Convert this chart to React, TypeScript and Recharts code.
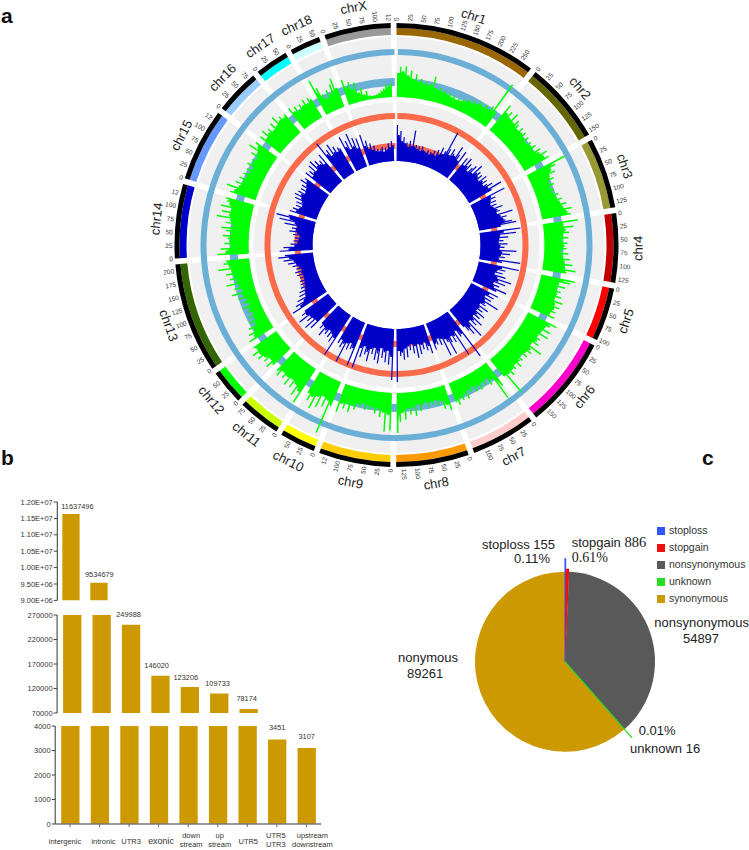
import React from "react";
import {
  Bar, BarChart, Cell, LabelList, Legend, Pie, PieChart, PolarAngleAxis, PolarRadiusAxis,
  Radar, RadarChart, Sector, XAxis, YAxis,
} from "recharts";

const FONT = "'Liberation Sans', Arial, sans-serif";

// ---------- panel a ----------
const chrNames = ["chr1","chr2","chr3","chr4","chr5","chr6","chr7","chr8","chr9","chr10","chr11","chr12","chr13","chr14","chr15","chr16","chr17","chr18","chrX"];
const chrSizes = [274,157,136,133,103,177,125,140,138,69,82,67,212,143,140,86,64,59,128];
const chrTickLabels = [
  ["0","25","50","75","100","125","150","175","200","225","250"],
  ["0","25","50","75","100","125","150"],
  ["0","25","50","75","100","125"],
  ["0","25","50","75","100","125"],
  ["0","25","50","75","100"],
  ["0","25","50","75","100","125","150"],
  ["0","25","50","75","100"],
  ["0","25","50","75","100","125"],
  ["0","25","50","75","100","12"],
  ["0","25","50"],
  ["0","25","50","75"],
  ["0","25","50"],
  ["0","25","50","75","100","125","150","175","200"],
  ["0","25","50","75","100","12"],
  ["0","25","50","75","100","12"],
  ["0","25","50","75"],
  ["0","25","50"],
  ["0","25","50"],
  ["0","25","50","75","100","12"],
];
const chrColors = ["#996600","#666600","#999933","#c00000","#ff0000","#ff00cc","#ffcccc","#ff9900","#ffcc00","#ffff00","#ccff00","#00ff00","#336600","#0000cc","#6699ff","#99ccff","#00ffff","#ccffff","#999999"];

const greenChr1 = [24,30,26,31,22,27,19,24,17,20,16,18,15,17,25,14,13,15,12,14,11,13,10,12,9,11,10,13,12,15,13,16,14,18,17,15,19,16,21,50,18];
const greenChr2 = [32,24,28,22,30,21,26,23,19,24,20,23,18,22,17,21,19,23,18,25,22,29,24,28];
const greenChr3 = [42,30,24,27,20,23,17,21,16,19,17,22,19,24,21,27,23,31,26,29];
const greenChr4 = [35,20,30,22,25,19,24,18,23,20,22,17,24,19,26,21,29,22,33,24];
const greenChr5 = [34,30,19,26,18,23,20,25,19,28,21,27,22,25,20,26];
const greenChr6 = [32,26,22,29,21,30,20,24,22,26,19,33,22,25,20,24,18,23,21,26,20,24,22,27,23,44,22];
const greenChr7 = [28,41,17,21,13,18,14,20,15,19,13,17,14,22,16,21,18,24,20];
const greenChr8 = [26,20,23,14,18,12,15,13,17,12,14,20,13,24,15,22,16,27,20,29,40];
const greenChr9 = [38,22,39,20,25,17,22,16,19,15,20,14,18,16,22,19,26,18,24,20,29];
const greenChr10 = [26,56,22,30,20,33,23,37,26,31,24];
const greenChr11 = [40,28,35,24,30,22,31,23,27,22,29,25];
const greenChr12 = [24,30,22,28,25,31,27,33,26,28];
const greenChr13 = [28,21,25,18,22,14,19,12,17,11,15,13,18,11,16,12,19,14,24,13,20,15,27,16,22,18,25,19,32,21,26,23];
const greenChr14 = [31,23,28,18,24,19,21,26,18,23,28,17,24,20,34,22,30,21,32,24,27,29];
const greenChr15 = [27,23,32,20,25,18,23,17,21,16,20,15,22,18,20,16,24,19,30,22,26];
const greenChr16 = [26,20,28,22,25,20,27,21,30,23,26,22,24];
const greenChr17 = [26,20,24,18,23,20,25,19,24,21];
const greenChr18 = [38,28,20,14,22,17,26,31,20];
const greenChrX = [26,18,22,14,20,9,13,6,9,4,3,3,4,5,7,9,13,11,14];
const greenTrack = [greenChr1,greenChr2,greenChr3,greenChr4,greenChr5,greenChr6,greenChr7,greenChr8,greenChr9,greenChr10,greenChr11,greenChr12,greenChr13,greenChr14,greenChr15,greenChr16,greenChr17,greenChr18,greenChrX];

const blueChr1 = [36,26,30,20,24,18,19,15,21,16,32,16,18,14,17,13,18,15,14,13,16,12,15,14,18,13,20,16,24,18,22,44,26,20,28,24,22,34,26,20,32];
const blueChr2 = [28,20,30,22,26,18,24,28,20,32,24,27,22,26,20,29,23,27,21,25,30,24,38,26];
const blueChr3 = [38,22,26,20,25,18,24,20,29,23,25,21,37,24,30,26,28,34,38,22];
const blueChr4 = [41,24,36,20,28,19,23,18,27,20,24,19,36,22,30,21,25,19,41,23];
const blueChr5 = [41,24,28,20,26,18,30,22,37,24,32,20,27,22,36,26];
const blueChr6 = [30,21,27,18,26,20,36,22,24,18,29,20,25,19,30,22,27,20,33,24,29,21,40,26,34,28,22];
const blueChr7 = [55,26,28,20,47,24,30,22,28,40,26,22,39,20,26,18,24,22,28];
const blueChr8 = [30,22,26,17,24,19,28,17,31,19,26,16,22,18,29,20,31,24,27,22,53];
const blueChr9 = [51,28,36,22,34,24,30,20,36,26,33,21,28,23,36,27,30,22,34,25,46];
const blueChr10 = [46,28,30,24,32,26,47,28,33,25,30];
const blueChr11 = [47,28,34,26,31,24,30,27,35,25,29,24];
const blueChr12 = [35,26,39,27,33,28,40,30,34,29];
const blueChr13 = [40,30,34,24,30,20,26,19,24,17,21,16,20,15,19,14,18,14,20,15,21,14,19,16,22,18,26,20,30,24,35,28];
const blueChr14 = [33,24,29,18,22,15,19,14,18,13,20,16,24,18,22,17,30,20,36,26,40,28];
const blueChr15 = [28,22,26,20,24,18,25,20,28,22,30,24,28,21,27,22,28,24,32,26,29];
const blueChr16 = [32,24,30,26,34,25,36,28,33,27,30,24,35];
const blueChr17 = [45,30,34,26,38,28,33,26,30,28];
const blueChr18 = [38,26,32,22,38,24,32,20,30];
const blueChrX = [32,20,25,16,21,14,18,12,14,11,13,15,10,14,12,18,14,20,16];
const blueTrack = [blueChr1,blueChr2,blueChr3,blueChr4,blueChr5,blueChr6,blueChr7,blueChr8,blueChr9,blueChr10,blueChr11,blueChr12,blueChr13,blueChr14,blueChr15,blueChr16,blueChr17,blueChr18,blueChrX];

// ---------- panel b ----------
const regionValues = [11637496,9534679,249988,146020,123206,109733,78174,3451,3107];
const regionLabels = [["intergenic"],["intronic"],["UTR3"],["exonic"],["down","stream"],["up","stream"],["UTR5"],["UTR5","UTR3"],["upstream","downstream"]];
const topTicks = [9000000,9500000,10000000,10500000,11000000,11500000,12000000];
const midTicks = [70000,120000,170000,220000,270000];
const lowTicks = [0,1000,2000,3000,4000];

// ---------- panel c ----------
const effectNames = ["stoploss","stopgain","nonsynonymous","unknown","synonymous"];
const effectValues = [155,886,54897,16,89261];
const effectColors = ["#3355ff","#ee1111","#595959","#22dd22","#cc9900"];

// ---------- layout ----------
const CX = 396.5, CY = 245;
const GAP = 1.52;
const totalSize = chrSizes.reduce((a, b) => a + b, 0);
const degPerMb = (360 - GAP * chrSizes.length) / totalSize;
const chrSpan = chrSizes.map((s) => s * degPerMb);
const chrStart = chrSpan.map((_, i) => chrSpan.slice(0, i).reduce((a, b) => a + b + GAP, 0));
const chrRows = chrNames.map((name, i) => ({ name, value: chrSizes[i] }));

const signalRows = (track: number[][]) =>
  track.flatMap((vals, c) => vals.map((value, i) => ({ angle: chrStart[c] + ((i + 0.5) / vals.length) * chrSpan[c], value })));

const tickRows = chrTickLabels.flatMap((labels, c) =>
  labels.map((label, i) => ({ angle: chrStart[c] + i * 25 * degPerMb, value: 224, label, kind: "tick" })));
const nameRows = chrNames.map((label, c) => ({ angle: chrStart[c] + chrSpan[c] / 2, value: 241.5, label, kind: "name" }));

// Per chromosome: a solid body below the local minimum of the scaled points, plus one radial line per point.
const spikes = (color: string, width: number, baseR: number) => (props: any) => {
  const runs: any[][] = [];
  props.points.forEach((p: any, i: number) => {
    if (i === 0 || Math.abs(props.points[i - 1].angle - p.angle) > 1.6) runs.push([]);
    runs[runs.length - 1].push(p);
  });
  const at = (p: any, r: number) => {
    const rad = (p.angle * Math.PI) / 180;
    return { x: p.cx + r * Math.cos(rad), y: p.cy - r * Math.sin(rad) };
  };
  const pt = (c: { x: number; y: number }) => `${c.x},${c.y}`;
  return (
    <g>
      {runs.map((run, k) => {
        const floor = run.map((p, i) => {
          const near = run.slice(Math.max(0, i - 1), i + 2).map((q) => q.radius);
          return pt(at(p, Math.min(...near)));
        });
        const baseline = run.map((p) => pt(at(p, baseR))).reverse();
        return (
          <g key={k}>
            <path d={`M${floor.join("L")}L${baseline.join("L")}Z`} fill={color} />
            {run.map((p, i) => {
              const s = at(p, baseR);
              return <line key={i} x1={s.x} y1={s.y} x2={p.x} y2={p.y} stroke={color} strokeWidth={width} />;
            })}
          </g>
        );
      })}
    </g>
  );
};

const ringText = (props: any) => (
  <g fontFamily={FONT}>
    {props.points.map((p: any, i: number) => {
      const theta = ((90 - p.angle) % 360 + 360) % 360;
      const { label, kind } = p.payload;
      if (kind === "name") {
        const rot = theta < 90 ? theta : theta < 270 ? theta - 180 : theta - 360;
        return (
          <text key={i} x={p.x} y={p.y} fontSize={13} fill="#222" textAnchor="middle" dominantBaseline="central" transform={`rotate(${rot} ${p.x} ${p.y})`}>
            {label}
          </text>
        );
      }
      const right = theta < 180;
      const rot = right ? theta - 90 : theta + 90;
      return (
        <text key={i} x={p.x} y={p.y} fontSize={6.5} fill="#333" textAnchor={right ? "start" : "end"} dominantBaseline="central" transform={`rotate(${rot} ${p.x} ${p.y})`}>
          {label}
        </text>
      );
    })}
  </g>
);

const Ring = (inner: number, outer: number, color: string, padded: boolean, key: string) => (
  <Pie key={key} data={padded ? chrRows : [{ name: key, value: 1 }]} dataKey="value" cx={CX} cy={CY} innerRadius={inner} outerRadius={outer}
    startAngle={padded ? 90 : 89.6} endAngle={padded ? -270 : -269.4} paddingAngle={padded ? GAP : 0} stroke="none" fill={color} isAnimationActive={false} legendType="none" />
);

const layer: React.CSSProperties = { position: "absolute", left: 0, top: 0 };

const SignalChart = ({ rows, inner, color, width }: any) => (
  <div style={layer}>
    <RadarChart width={749} height={500} cx={CX} cy={CY} innerRadius={inner} outerRadius={inner + 60} data={rows} margin={{ top: 0, right: 0, bottom: 0, left: 0 }}>
      <PolarAngleAxis dataKey="angle" type="number" scale="linear" domain={[0, 360]} tick={false} axisLine={false} />
      <PolarRadiusAxis type="number" scale="linear" domain={[0, 60]} tick={false} axisLine={false} />
      <Radar dataKey="value" isAnimationActive={false} shape={spikes(color, width, inner)} />
    </RadarChart>
  </div>
);

// ---------- bars ----------
const AXIS_INK = "#444";
const BAR_FILL = "#cc9900";
const labelNudge = [[6.5, 7], [0.4, 8], [-2.5, 10], [-3.8, 10], [-4, 10], [-1.7, 10], [-2, 10.7], [0, 12], [0, 11]];
const xLabelNudge = [-5, 4, 2, 2.5, 3, 2, 1, -1, 6];

const inPanel = (lo: number, hi: number) => (props: any) => {
  const { x, y, width, value, index } = props;
  if (value == null || value < lo || value > hi) return null;
  const [dx, dy] = labelNudge[index];
  return (
    <text x={x + width / 2 + dx} y={y - dy + 2.6} fontSize={7.4} fill="#333" fontFamily={FONT} textAnchor="middle">
      {regionValues[index]}
    </text>
  );
};

const CategoryTick = (props: any) => {
  const { x, y, index } = props;
  const lines = regionLabels[index];
  const size = lines[0] === "exonic" ? 9 : 7.5;
  return (
    <g fontFamily={FONT} fontSize={size} fill="#333" textAnchor="middle">
      {lines.length === 1 ? (
        <text x={x + xLabelNudge[index]} y={y + 15}>{lines[0]}</text>
      ) : (
        <>
          <text x={x + xLabelNudge[index]} y={y + 9.5}>{lines[0]}</text>
          <text x={x + xLabelNudge[index]} y={y + 18.5}>{lines[1]}</text>
        </>
      )}
    </g>
  );
};

const sci = (v: number) => v.toExponential(2).toUpperCase().replace(/E\+(\d)$/, "E+0$1");

const BarPanel = ({ top, height, slot, plotLeft, barSize, domain, ticks, fmt, showX, lo, hi }: any) => {
  const rows = regionLabels.map((l, i) => ({ name: l.join(" "), value: regionValues[i] >= domain[0] ? regionValues[i] : null }));
  const PAD = 10;
  const RIGHT = 30;
  const axisH = 26;
  return (
    <div style={{ position: "absolute", left: 0, top: top - PAD }}>
      <BarChart width={plotLeft + slot * 9 + RIGHT} height={height + PAD + (showX ? axisH : PAD)} data={rows}
        margin={{ top: PAD, right: RIGHT, bottom: showX ? 0 : PAD, left: 0 }} barSize={barSize}>
        <XAxis dataKey="name" hide={!showX} height={axisH} axisLine={{ stroke: "#777", strokeWidth: 1.4 }} tickLine={{ stroke: "#666" }} tickSize={3} interval={0} tick={CategoryTick} />
        <YAxis width={plotLeft} type="number" domain={domain} ticks={ticks} allowDataOverflow interval={0} tickFormatter={fmt}
          axisLine={{ stroke: AXIS_INK, strokeWidth: 1.1 }} tickLine={{ stroke: AXIS_INK }} tickSize={3.5} tickMargin={1}
          tick={{ fontSize: 7.5, fill: "#333", fontFamily: FONT }} />
        <Bar dataKey="value" fill={BAR_FILL} isAnimationActive={false}>
          <LabelList dataKey="value" content={inPanel(lo, hi)} />
        </Bar>
      </BarChart>
    </div>
  );
};

// ---------- pie ----------
const pieRows = effectNames.map((name, i) => ({ name, value: effectValues[i] }));
const pulledRadius: Record<string, number> = { stoploss: 103, stopgain: 93, unknown: 101 };

const PulledSlice = (props: any) => {
  const r = pulledRadius[props.name];
  if (!r) return <g />;
  const color = effectColors[effectNames.indexOf(props.name)];
  return <Sector {...props} outerRadius={r} fill={color} stroke={color} strokeWidth={props.name === "stopgain" ? 0 : 1.1} />;
};

const T = ({ x, y, size = 13, anchor = "start", serif = false, children }: any) => (
  <text x={x} y={y} fontSize={size} textAnchor={anchor} fill="#222" fontFamily={serif ? "'Liberation Serif', serif" : FONT}>
    {children}
  </text>
);

export default function App() {
  return (
    <div style={{ position: "absolute", left: 0, top: 0, width: 749, height: 850, background: "#fff", fontFamily: FONT, overflow: "hidden" }}>
      <div style={layer}>
        <PieChart width={749} height={500} margin={{ top: 0, right: 0, bottom: 0, left: 0 }}>
          <Pie data={chrRows} dataKey="value" cx={CX} cy={CY} innerRadius={210} outerRadius={217} startAngle={90} endAngle={-270} paddingAngle={GAP} stroke="none" isAnimationActive={false}>
            {chrRows.map((r, i) => <Cell key={r.name} fill={chrColors[i]} />)}
          </Pie>
          {Ring(217, 222, "#000", true, "karyotype")}
          {Ring(147, 208, "#f0f0f0", true, "trackOuter")}
          {Ring(84, 143, "#f0f0f0", true, "trackInner")}
          {Ring(190, 196, "#6baed6", false, "ringBlueOuter")}
          {Ring(159, 167, "#6baed6", false, "ringBlueInner")}
          {Ring(126, 132, "#fb6a4a", false, "ringRedOuter")}
          {Ring(96, 102, "#fb6a4a", false, "ringRedInner")}
        </PieChart>
      </div>
      <SignalChart rows={signalRows(greenTrack)} inner={148} color="#00ff00" width={1.5} />
      <SignalChart rows={signalRows(blueTrack)} inner={84} color="#0000c8" width={1.2} />
      <div style={layer}>
        <RadarChart width={749} height={500} cx={CX} cy={CY} innerRadius={0} outerRadius={245} data={[...tickRows, ...nameRows]} margin={{ top: 0, right: 0, bottom: 0, left: 0 }}>
          <PolarAngleAxis dataKey="angle" type="number" scale="linear" domain={[0, 360]} tick={false} axisLine={false} />
          <PolarRadiusAxis type="number" scale="linear" domain={[0, 245]} tick={false} axisLine={false} />
          <Radar dataKey="value" isAnimationActive={false} shape={ringText} />
        </RadarChart>
      </div>

      <BarPanel top={502.3} height={98.4} slot={28} plotLeft={57.3} barSize={17.3} domain={[9000000, 12000000]} ticks={topTicks} fmt={sci} lo={9000000} hi={12000000} />
      <BarPanel top={614.7} height={98} slot={29.4} plotLeft={57.1} barSize={18.3} domain={[70000, 270000]} ticks={midTicks} lo={70000} hi={269999} />
      <BarPanel top={725.7} height={98} slot={29.55} plotLeft={55.2} barSize={18.3} domain={[0, 4000]} ticks={lowTicks} showX lo={0} hi={3999} />

      <div style={layer}>
        <PieChart width={749} height={850} margin={{ top: 0, right: 0, bottom: 0, left: 0 }}>
          <Pie data={pieRows} dataKey="value" nameKey="name" cx={565} cy={661.7} innerRadius={0} outerRadius={90} startAngle={90} endAngle={-270} stroke="none" isAnimationActive={false}>
            {pieRows.map((r, i) => <Cell key={r.name} fill={effectColors[i]} />)}
          </Pie>
          <Pie data={pieRows} dataKey="value" nameKey="name" cx={565} cy={661.7} innerRadius={0} outerRadius={90} startAngle={90} endAngle={-270} stroke="none" isAnimationActive={false} legendType="none" shape={PulledSlice} />
          <Legend layout="vertical" align="center" verticalAlign="middle" iconType="square" iconSize={8} itemSorter={null}
            wrapperStyle={{ left: 657, top: 522, width: 120, fontSize: 10.5, lineHeight: "17px", fontFamily: FONT, textAlign: "left", whiteSpace: "nowrap" }}
            formatter={(v: string) => <span style={{ color: "#333", whiteSpace: "nowrap" }}>{v}</span>} />
        </PieChart>
      </div>

      <svg width={749} height={850} style={{ ...layer, pointerEvents: "none" }}>
        <text x={1} y={23} fontSize={21} fontWeight="bold" fontFamily={FONT} fill="#111">a</text>
        <text x={1} y={465} fontSize={21} fontWeight="bold" fontFamily={FONT} fill="#111">b</text>
        <text x={702} y={465} fontSize={21} fontWeight="bold" fontFamily={FONT} fill="#111">c</text>
        <T x={482} y={549}>stoploss 155</T>
        <T x={550} y={563.3} anchor="end">0.11%</T>
        <T x={571.7} y={547}>stopgain <tspan fontFamily="'Liberation Serif', serif" fontSize={14.5}>886</tspan></T>
        <T x={571.7} y={561.7} size={14} serif>0.61%</T>
        <T x={701.7} y={627} anchor="middle">nonsynonymous</T>
        <T x={701} y={642.7} anchor="middle">54897</T>
        <T x={638.7} y={735}>0.01%</T>
        <T x={630} y={753}>unknown 16</T>
        <T x={398} y={662}>nonymous</T>
        <T x={407} y={678}>89261</T>
      </svg>
    </div>
  );
}
